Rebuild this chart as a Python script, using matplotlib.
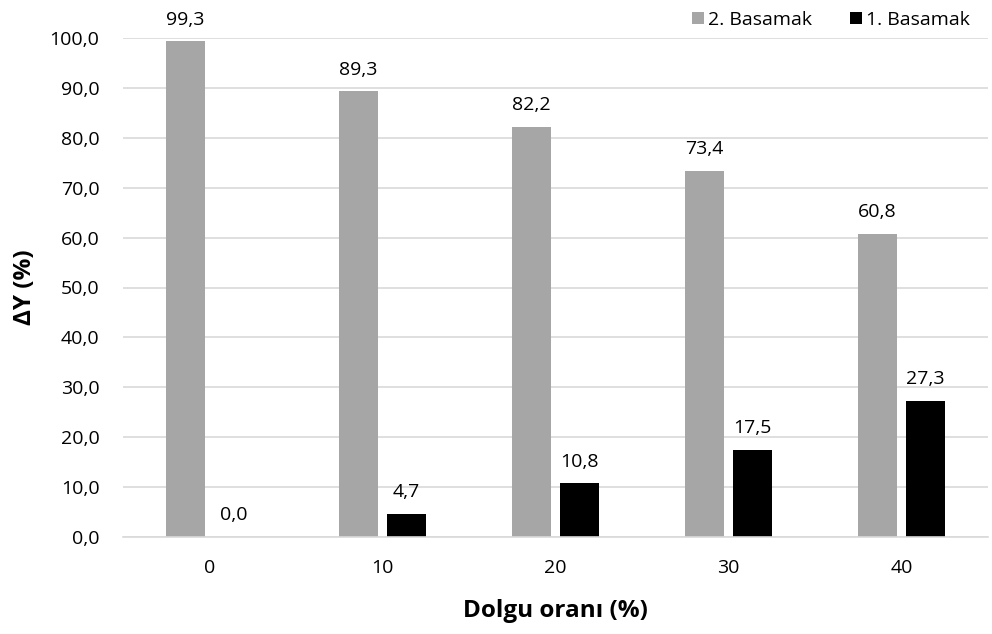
import matplotlib
matplotlib.use("Agg")
import matplotlib.pyplot as plt
import numpy as np

plt.rcParams['font.family'] = ['Open Sans', 'DejaVu Sans']

categories = ["0", "10", "20", "30", "40"]
basamak2 = [99.3, 89.3, 82.2, 73.4, 60.8]
basamak1 = [0.0, 4.7, 10.8, 17.5, 27.3]
yticks = [0, 10, 20, 30, 40, 50, 60, 70, 80, 90, 100]

W, H = 992, 634
fig = plt.figure(figsize=(W / 100, H / 100), dpi=100)
ax = fig.add_axes([123 / W, (H - 537) / H, (988 - 123) / W, (537 - 38) / H])

x = np.arange(len(categories))
width = 0.225
off = 0.139
gray = "#a6a6a6"
b2 = ax.bar(x - off, basamak2, width, color=gray, label="2. Basamak")
b1 = ax.bar(x + off, basamak1, width, color="black", label="1. Basamak")

def fmt(v):
    return f"{v:.1f}".replace(".", ",")

fs = 14
for bars, vals in ((b2, basamak2), (b1, basamak1)):
    for r, v in zip(bars, vals):
        ax.annotate(fmt(v), (r.get_x() + r.get_width() / 2, v),
                    xytext=(0, 9), textcoords="offset points",
                    ha="center", va="bottom", fontsize=fs, color="#000000")

ax.set_xlim(-0.5, len(categories) - 0.5)
ax.set_ylim(0, 100)
ax.set_yticks(yticks)
ax.set_yticklabels([fmt(v) for v in yticks], fontsize=fs)
ax.set_xticks(x)
ax.set_xticklabels(categories, fontsize=fs)
ax.tick_params(length=0)
ax.tick_params(axis="y", pad=17)
ax.tick_params(axis="x", pad=16)
ax.grid(axis="y", color="#d9d9d9", linewidth=1.2)
ax.set_axisbelow(True)
for s in ("top", "right", "left"):
    ax.spines[s].set_visible(False)
ax.spines["bottom"].set_color("#d9d9d9")
ax.spines["bottom"].set_linewidth(1.2)

ax.set_ylabel("ΔY (%)", fontsize=17.5, fontweight="bold", labelpad=9)
ax.set_xlabel("Dolgu oranı (%)", fontsize=17.5, fontweight="bold", labelpad=16)

ax.legend(loc="upper right", bbox_to_anchor=(0.988, 1.07), ncol=2, frameon=False,
          fontsize=fs, handlelength=0.6, handleheight=0.6, handletextpad=0.2,
          columnspacing=2.0, borderaxespad=0)

fig.savefig("out.png", dpi=100)
